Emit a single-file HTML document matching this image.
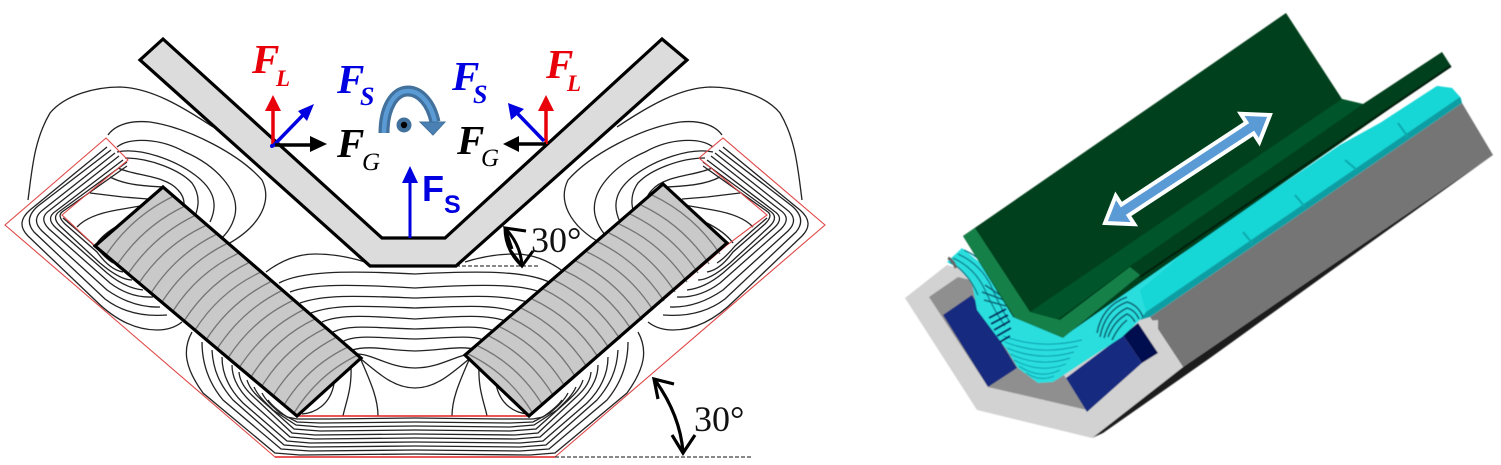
<!DOCTYPE html>
<html>
<head>
<meta charset="utf-8">
<style>
html,body{margin:0;padding:0;background:#fff;}
svg{display:block;}
.fi{font-family:"Liberation Serif",serif;font-style:italic;font-weight:bold;}
.deg{font-family:"Liberation Serif",serif;font-size:36px;fill:#111;}
</style>
</head>
<body>
<svg width="1501" height="465" viewBox="0 0 1501 465" xmlns="http://www.w3.org/2000/svg">
<defs>
<filter id="soft" x="-5%" y="-5%" width="110%" height="110%"><feGaussianBlur stdDeviation="0.6"/></filter>
<g id="flux" fill="none" stroke="#222" stroke-width="1.3">
  <path d="M107,147L30,210Q15,223 28,236L95,300Q125,330 157,330Q172,330 182,322"/>
  <path d="M111,150L38,206Q23,219 34,232L105,299Q130,318 167,315"/>
  <path d="M115,153L44,209Q30,219 42,231L107,290Q133,308 160,307"/>
  <path d="M119,156L50,210Q38,218 49,229L110,283Q130,298 153,297"/>
  <path d="M123,160L56,211Q45,218 56,228L107,273Q125,288 143,290"/>
  <path d="M127,162L60,211Q51,217 60,226L100,263Q120,280 132,280"/>
  <path d="M127,166L62,212Q57,216 65,224L97,252Q110,270 123,272"/>
  <path d="M63,218L77,230L95,246Q105,258 113,263"/>

  <path d="M192,332C182,350 185,368 203,393L275,453L300,455L415,454"/>
  <path d="M202,342C202,362 208,382 223,400L281,449L310,451L415,450"/>
  <path d="M212,350C213,370 220,385 233,400L284,445L310,447L415,446"/>
  <path d="M222,357C222,375 230,390 243,403L287,441L310,443L415,442"/>
  <path d="M232,365C232,380 240,392 252,403L290,437L315,439L415,438"/>
  <path d="M239,372C240,384 248,392 257,400L292,433L315,435L415,434"/>
  <path d="M247,380C250,390 258,397 267,405L294,429L320,431L415,430"/>
  <path d="M254,387C258,396 265,402 273,410L296,425L320,427L415,426"/>
  <path d="M262,393C266,401 273,407 280,413L297,422L320,423L415,422"/>
  <path d="M268,400C272,406 280,412 287,417L297,419L330,419L415,418"/>

  <path d="M28,200C32,170 34,140 50,113C65,95 95,87 120,87C150,88 180,105 213,127"/>
  <path d="M108,135C115,125 130,120 150,122C190,128 240,155 262,180C272,200 262,225 228,244"/>
  <path d="M117,147C130,137 160,138 185,152C215,165 240,190 235,215C232,228 225,235 220,240"/>
  <path d="M117,152C140,147 175,160 195,175C215,190 218,205 210,222"/>
  <path d="M125,158C150,158 180,170 192,183C202,197 198,212 192,222"/>
  <path d="M118,168C135,176 165,175 178,190C185,197 185,205 183,212"/>
  <path d="M110,177C125,185 145,186 163,187"/>
  <path d="M90,193L123,197L148,199"/>
  <path d="M77,227Q88,215 117,210L146,205"/>
  <path d="M97,243Q105,232 123,223"/>
  <path d="M266,272Q290,254 315,254T365,262"/>
  <path d="M279,283C300,272 340,270 415,274"/>
  <path d="M290,292C310,284 350,284 415,288"/>
  <path d="M300,303C325,294 360,296 415,298"/>
  <path d="M311,313C335,304 365,306 415,308"/>
  <path d="M322,322C340,314 370,316 415,319"/>
  <path d="M333,332C350,324 375,328 415,329"/>
  <path d="M342,342C355,334 380,338 415,339"/>
  <path d="M352,350C370,345 385,350 415,351"/>
  <path d="M358,354C375,355 390,368 415,368"/>
  <path d="M361,359C380,375 395,388 415,388"/>
  <path d="M361,360C372,385 378,400 378,416"/>
  <path d="M351,367C352,390 345,405 343,416"/>
  <path d="M334,384C330,405 315,413 302,414"/>
</g>
<g id="maglines" fill="none" stroke="#767676" stroke-width="1.3">
  <path d="M106,255Q132,216 174,196"/>
  <path d="M117,265Q143,226 185,206"/>
  <path d="M128,274Q154,235 196,215"/>
  <path d="M139,283Q165,244 207,225"/>
  <path d="M151,293Q176,254 217,234"/>
  <path d="M162,302Q187,263 228,243"/>
  <path d="M173,311Q198,272 239,253"/>
  <path d="M184,321Q209,282 250,262"/>
  <path d="M195,330Q220,291 261,272"/>
  <path d="M206,340Q231,301 272,281"/>
  <path d="M217,349Q242,310 283,290"/>
  <path d="M228,358Q253,319 294,300"/>
  <path d="M239,368Q264,329 305,309"/>
  <path d="M251,377Q275,338 315,319"/>
  <path d="M262,386Q286,347 326,328"/>
  <path d="M273,396Q297,357 337,337"/>
  <path d="M284,405Q308,366 348,347"/>
  <path d="M294,413Q318,374 358,355"/>
</g>
</defs>

<!-- left diagram -->
<use href="#flux"/>
<use href="#flux" transform="translate(830,0) scale(-1,1)"/>

<path d="M106,138L5,225L275,457L555,457L825,225L723,138L699,158L767,215L727,245L529,416L297,416L95,246L62,215L128,160Z" fill="none" stroke="#e04848" stroke-width="1.1"/>
<path d="M297,416L529,416" stroke="#e02020" stroke-width="1.5"/>
<path d="M275,457L555,457" stroke="#e02020" stroke-width="1.5"/>
<path d="M361,358L297,416M465,355L529,416" stroke="#e04848" stroke-width="1.1"/>
<path d="M668,44L687,60" stroke="#e04848" stroke-width="1.2"/>

<polygon points="163,187 95,246 297,416 361,358" fill="#c9c9c9"/>
<use href="#maglines"/>
<polygon points="163,187 95,246 297,416 361,358" fill="none" stroke="#000" stroke-width="3.2" stroke-linejoin="miter"/>
<polygon points="663,184 727,243 529,416 465,355" fill="#c9c9c9"/>
<use href="#maglines" transform="translate(826,-1) scale(-1,1)"/>
<polygon points="663,184 727,243 529,416 465,355" fill="none" stroke="#000" stroke-width="3.2"/>

<polygon points="163,39 140,60 370,266 456,266 687,60 662,39 445,238 382,238" fill="#dcdcdc" stroke="#000" stroke-width="3.2"/>

<!-- dashed lines -->
<path d="M456,266H540" stroke="#111" stroke-width="1" stroke-dasharray="4 2" fill="none"/>
<path d="M555,457H752" stroke="#111" stroke-width="1" stroke-dasharray="4 2" fill="none"/>

<!-- left arrows -->
<path d="M273,146V110" stroke="#e8000b" stroke-width="3.5"/>
<polygon points="273,95 265,111 281,111" fill="#e8000b"/>
<path d="M273,146L304,114" stroke="#0000e0" stroke-width="3.5"/>
<polygon points="314,104 298,111 307,121" fill="#0000e0"/>
<path d="M275,145H312" stroke="#000" stroke-width="3.5"/>
<polygon points="327,144 310,136 310,152" fill="#000"/>
<circle cx="272" cy="146" r="2" fill="#0000e0"/>

<!-- right arrows -->
<path d="M546,144V110" stroke="#e8000b" stroke-width="3.5"/>
<polygon points="546,95 538,111 554,111" fill="#e8000b"/>
<path d="M544,141L517,113" stroke="#0000e0" stroke-width="3.5"/>
<polygon points="508,103 511,120 524,109" fill="#0000e0"/>
<path d="M546,144H517" stroke="#000" stroke-width="3.5"/>
<polygon points="503,144 519,136 519,152" fill="#000"/>

<!-- centre arrow -->
<path d="M410,238V180" stroke="#0000e0" stroke-width="3"/>
<polygon points="410,166 402,183 418,183" fill="#0000e0"/>

<!-- curved arrow -->
<path d="M384,133C384,108 394,91 408,91C420,91 431,103 435,122" fill="none" stroke="#41719c" stroke-width="11"/>
<path d="M384,133C384,108 394,91 408,91C420,91 431,103 435,122" fill="none" stroke="#5b9bd5" stroke-width="4.5"/>
<polygon points="420,122 445,122 433,135" fill="#4a80b3" stroke="#41719c" stroke-width="1"/>
<circle cx="404" cy="125" r="7.5" fill="#41719c"/>
<circle cx="404" cy="125" r="3.2" fill="#000"/>

<!-- labels -->
<text class="fi" x="252" y="73" font-size="41" fill="#e8000b">F</text>
<text class="fi" x="276" y="86" font-size="23" fill="#e8000b">L</text>
<text class="fi" x="337" y="93" font-size="41" fill="#0000e0">F</text>
<text class="fi" x="360" y="105" font-size="26" fill="#0000e0">S</text>
<text class="fi" x="337" y="157" font-size="41" fill="#000">F</text>
<text x="362" y="170" font-size="25" font-family="Liberation Serif, serif" fill="#000" font-style="italic">G</text>
<text class="fi" x="452" y="90" font-size="41" fill="#0000e0">F</text>
<text class="fi" x="473" y="103" font-size="26" fill="#0000e0">S</text>
<text class="fi" x="546" y="78" font-size="41" fill="#e8000b">F</text>
<text class="fi" x="567" y="91" font-size="23" fill="#e8000b">L</text>
<text class="fi" x="457" y="154" font-size="41" fill="#000">F</text>
<text x="481" y="166" font-size="25" font-family="Liberation Serif, serif" fill="#000" font-style="italic">G</text>
<text x="422" y="201" font-size="36" font-family="Liberation Sans, sans-serif" font-weight="bold" fill="#0000e0">F</text>
<text x="444" y="213" font-size="25" font-family="Liberation Sans, sans-serif" font-weight="bold" fill="#0000e0">S</text>

<!-- 30 top -->
<g fill="none" stroke="#000" stroke-width="3">
  <path d="M505,228Q521,245 522,266"/>
  <path d="M505,228Q505,250 522,266"/>
  <path d="M526,231L505,228L512,249"/>
  <path d="M510,250L522,266L533,251"/>
</g>
<text class="deg" x="531" y="252">30°</text>

<!-- 30 bottom -->
<g fill="none" stroke="#000" stroke-width="3.2">
  <path d="M655,380Q680,415 683,452"/>
  <path d="M674,384L654,379L658,399"/>
  <path d="M672,435L683,453L695,435"/>
</g>
<text class="deg" x="694" y="431">30°</text>

<!-- right 3D -->
<g filter="url(#soft)">
  <polygon points="1183,367 1493,155 1360,250 1210,358 1103,433 1092,438" fill="#1a1a1a"/>
  <polygon points="1150,317 1462,103 1493,155 1183,367" fill="#747474"/>
  <polygon points="905,298 947,265 1150,317 1183,367 1092,438 977,410" fill="#d2d2d2"/>
  <polygon points="929,297 958,277 1130,320 1158,353 1087,410 988,387" fill="#8f8f8f"/>
  <polygon points="1030,330 1158,320 1158,353 1087,412 1066,378" fill="#d2d2d2"/>
  <polygon points="943,315 972,295 1017,368 988,387" fill="#12297f"/>
  <polygon points="1066,378 1123,335 1142,363 1087,412" fill="#12297f"/>
  <polygon points="1123,335 1138,323 1158,353 1142,363" fill="#050a50"/>

  <polygon points="947,262 962,248 1063,330 1200,240 1340,145 1380,123 1437,86 1452,88 1461,98 1462,103 1150,317 1140,320 1122,337 1067,373 1053,382 1038,383 1018,368 1007,350 977,310 972,283 958,268" fill="#2adede"/>
  <polygon points="1140,290 1200,240 1340,145 1380,123 1437,86 1452,88 1460,97 1146,312" fill="#14d6d6"/>
  <polygon points="1146,312 1460,97 1462,103 1150,317 1140,320" fill="#0a9ea3"/>
  <path d="M1398,123L1408,137M1345,160L1357,170M1295,195L1305,207M1243,232L1252,243" stroke="#0aa8ac" stroke-width="2" fill="none"/>

  <!-- coil ripples -->
  <g fill="none" stroke="#0da6b4" stroke-width="1.2">
    <path d="M1003,336Q1040,350 1082,340"/>
    <path d="M1005,342Q1040,356 1078,346"/>
    <path d="M1007,348Q1040,362 1074,352"/>
    <path d="M1010,354Q1040,368 1070,358"/>
    <path d="M1014,360Q1040,374 1066,364"/>
    <path d="M1019,366Q1040,380 1060,370"/>
    <path d="M1026,373Q1040,382 1054,376"/>
  </g>
  <g fill="none" stroke="#0a7f8e" stroke-width="1.4">
    <path d="M953,258Q975,268 985,290T1005,326"/>
    <path d="M958,254Q982,265 992,288T1010,322"/>
    <path d="M964,250Q990,262 998,284"/>
    <path d="M950,262Q968,272 978,295"/>
  </g>
  <g fill="none" stroke="#0a5f70" stroke-width="1.6">
    <path d="M985,285L1000,295M982,292L1004,300M984,300L1006,306"/>
    <path d="M1100,337Q1105,310 1127,302Q1138,305 1143,317"/>
    <path d="M1104,338Q1110,316 1127,308Q1135,310 1139,319"/>
    <path d="M1108,337Q1114,321 1127,314Q1132,316 1135,322"/>
    <path d="M1112,340Q1118,327 1127,320"/>
    <path d="M1097,333Q1102,306 1127,297"/>
  </g>
  <g fill="none" stroke="#06205e" stroke-width="2">
    <path d="M989,318L1006,309"/>
    <path d="M991,324L1008,315"/>
    <path d="M994,330L1010,321"/>
    <path d="M997,336L1011,328"/>
    <path d="M1000,342L1010,336"/>
  </g>
  <path d="M948,258Q953,260 956,268" stroke="#666" stroke-width="3" fill="none"/>

  <polygon points="963,236 1286,13 1342,99 1363,104 1442,52 1451,66 1063,337 1013,317" fill="#043f1c"/>
  <polygon points="1030,312 1342,99 1363,104 1130,266 1058,319" fill="#06562c"/>
  <polygon points="963,236 975,228 1030,312 1060,320 1130,267 1140,275 1063,338 1015,318" fill="#14804a"/>
  <path d="M1140,277L1451,66" stroke="#021f0e" stroke-width="2" fill="none"/>
</g>
<polygon points="1270,115 1240.7,113.8 1246.4,122.6 1121.4,204.6 1115.7,195.8 1105,223 1134.3,224.2 1128.6,215.4 1253.6,133.4 1259.3,142.2" fill="#5b9bd5" stroke="#fff" stroke-width="4" stroke-linejoin="miter"/>
</svg>
</body>
</html>
